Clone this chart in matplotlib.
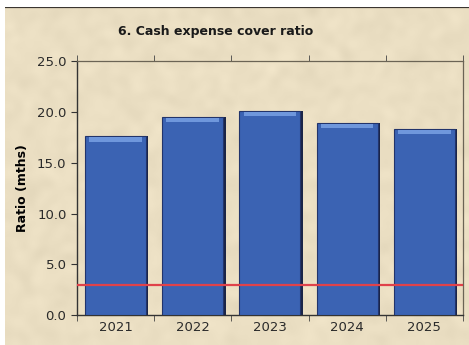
import numpy as np
import matplotlib
matplotlib.use("Agg")
import matplotlib.pyplot as plt

# Datos del gráfico
anios = ["2021", "2022", "2023", "2024", "2025"]
ratio_meses = [17.6, 19.5, 20.1, 18.9, 18.3]
nivel_minimo = 3.0

fig = plt.figure(figsize=(4.69, 3.45), dpi=100)
fig.patch.set_facecolor("white")

# Fondo tipo pergamino (textura suave)
fondo = fig.add_axes([0.01, 0, 0.99, 0.98])
rng = np.random.default_rng(7)
ruido = rng.normal(0, 1, (110, 150))
k = np.ones(3) / 3
for _ in range(2):
    ruido = np.apply_along_axis(lambda r: np.convolve(r, k, mode="same"), 1, ruido)
    ruido = np.apply_along_axis(lambda c: np.convolve(c, k, mode="same"), 0, ruido)
ruido = (ruido - ruido.min()) / (ruido.max() - ruido.min())
base = np.array([234, 222, 194]) / 255.0
tex = base[None, None, :] + (ruido[:, :, None] - 0.5) * 0.07
fondo.imshow(np.clip(tex, 0, 1), aspect="auto", interpolation="bicubic")
fondo.axhline(-0.5, color="#3a3530", lw=1.6)
fondo.set_axis_off()

ax = fig.add_axes([0.164, 0.087, 0.823, 0.735])
ax.set_facecolor("none")
x = np.arange(len(anios))
ancho = 0.79

# Barras con bisel
ax.bar(x + 0.03, ratio_meses, width=ancho, color="#1b2547", zorder=2)
ax.bar(x, ratio_meses, width=ancho, color="#3b63b3", edgecolor="#22346b",
       linewidth=0.8, zorder=3)
ax.bar(x, [0.45] * len(x), bottom=np.array(ratio_meses) - 0.5, width=ancho * 0.86,
       color="#6f97dc", linewidth=0, zorder=4)

ax.axhline(nivel_minimo, color="#e0424a", lw=1.6, zorder=5)

ax.set_xlim(-0.5, len(anios) - 0.5)
ax.set_ylim(0, 25)
ax.set_yticks(np.arange(0, 25.1, 5))
ax.set_yticklabels([f"{v:.1f}" for v in np.arange(0, 25.1, 5)], fontsize=9.5,
                   color="#2a2a2a")
ax.set_xticks(x)
ax.set_xticklabels(anios, fontsize=9.5, color="#2a2a2a")
ax.set_xticks(np.arange(-0.5, len(anios)), minor=True)
ax.tick_params(axis="x", which="major", length=0, pad=4)
ax.tick_params(axis="x", which="minor", length=4, top=True, color="#444444")
ax.tick_params(axis="y", length=4, color="#333333")
for lado in ["left", "bottom"]:
    ax.spines[lado].set_color("#333333")
    ax.spines[lado].set_linewidth(1.0)
for lado in ["top", "right"]:
    ax.spines[lado].set_color("#6b6455")
    ax.spines[lado].set_linewidth(0.9)

ax.set_ylabel("Ratio (mths)", fontsize=9, fontweight="bold", labelpad=6)
fig.text(0.46, 0.91, "6. Cash expense cover ratio", ha="center", va="center",
         fontsize=9, fontweight="bold", color="#1a1a1a")

fig.savefig("out.png", dpi=100)
